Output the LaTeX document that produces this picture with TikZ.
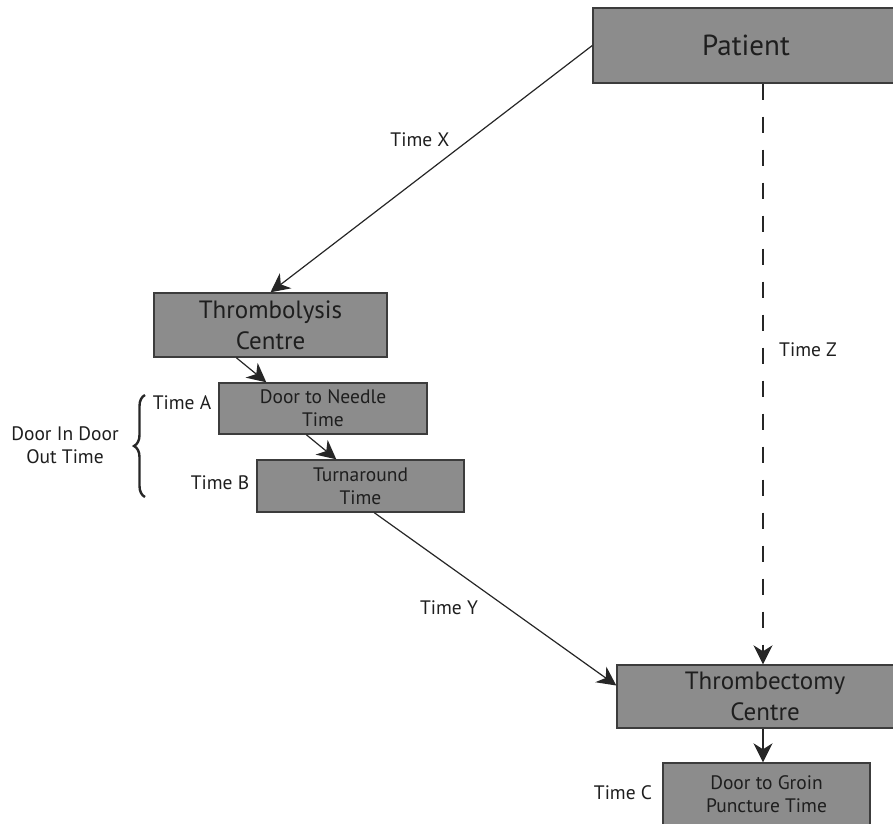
\documentclass[tikz,border=0pt]{standalone}
\usepackage{fontspec}
\setmainfont{PT Sans}
\usepackage{tikz}
\usetikzlibrary{arrows.meta}
\usetikzlibrary{decorations.pathreplacing}
\usepackage{xcolor}
\definecolor{boxgray}{HTML}{8C8C8C}
\definecolor{edgegray}{HTML}{3C3C3C}
\definecolor{inkgray}{HTML}{1E1E1E}

\begin{document}
\begin{tikzpicture}
	[x=1pt,y=-1pt,
	every node/.style={text=inkgray,inner sep=0pt},
	stage/.style={draw=edgegray,line width=1.4pt,fill=boxgray,align=center},
	timelabel/.style={font=\fontsize{19.5}{23}\selectfont},
	link/.style={draw=black!85,line width=1.2pt,-{Stealth[length=19pt,width=19pt,inset=6pt]}}]
	\useasboundingbox (0,0) rectangle (893,823);
	% boxes
	\node[stage,minimum width=306pt,minimum height=75pt,font=\fontsize{29}{34}\selectfont] (pat) at (746,45.5) {Patient};
	\node[stage,minimum width=233pt,minimum height=64pt,font=\fontsize{25}{31}\selectfont] (tlc) at (270.5,325) {Thrombolysis\\Centre};
	\node[stage,minimum width=208pt,minimum height=51pt,font=\fontsize{19.5}{23}\selectfont] (dtn) at (323,408.5) {Door to Needle\\Time};
	\node[stage,minimum width=207pt,minimum height=52pt,font=\fontsize{19.5}{23}\selectfont] (tat) at (360.5,486) {Turnaround\\Time};
	\node[stage,minimum width=296pt,minimum height=63pt,font=\fontsize{25}{31}\selectfont] (tec) at (765,696.5) {Thrombectomy\\Centre};
	\node[stage,minimum width=207pt,minimum height=62pt,font=\fontsize{19.5}{23}\selectfont] (grn) at (766.5,794) {Door to Groin\\Puncture Time};
	% labels
	\node[timelabel] (tx) at (420,140) {Time X};
	\node[timelabel] (ty) at (449,608) {Time Y};
	\node[timelabel] (tz) at (808,350) {Time Z};
	\node[timelabel] (ta) at (182,403) {Time A};
	\node[timelabel] (tb) at (220,483) {Time B};
	\node[timelabel] (tc) at (623,793) {Time C};
	\node[timelabel,align=center] (dido) at (65,445) {Door In Door\\Out Time};
	\coordinate (zline) at (763,0);
	% connectors
	\draw[link] (pat.west) -- (tlc.north);
	\draw[link] ([xshift=83pt]tlc.south west) -- ([xshift=48pt]dtn.north west);
	\draw[link] ([xshift=88pt]dtn.south west) -- ([xshift=80pt]tat.north west);
	\draw[link] ([xshift=118pt]tat.south west) -- ([yshift=11pt]tec.west);
	\draw[link,dash pattern=on 16pt off 17pt] (pat.south -| zline) -- (tec.north -| zline);
	\draw[link] (tec.south -| zline) -- (grn.north -| zline);
	\draw[decorate,decoration={brace,amplitude=11pt},line width=2.4pt,draw=black!85] (145,497) -- (145,395);
\end{tikzpicture}
\end{document}
